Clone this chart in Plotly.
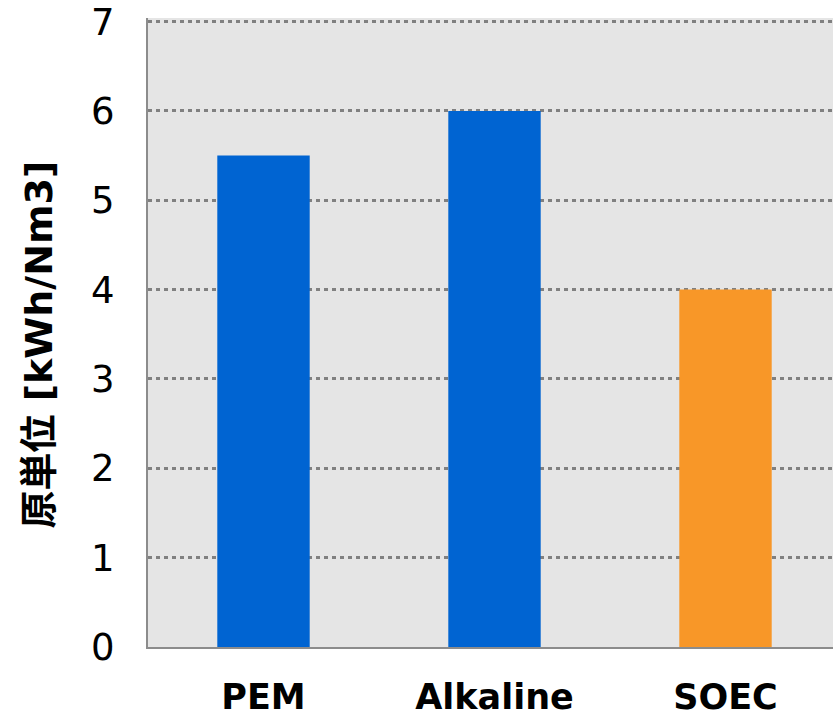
import plotly.graph_objects as go

categories = ["PEM", "Alkaline", "SOEC"]
values = [5.5, 6.0, 4.0]
colors = ["#0064D2", "#0064D2", "#F89728"]
y_ticks = [0, 1, 2, 3, 4, 5, 6, 7]
y_title = "原単位 [kWh/Nm3]"

fig = go.Figure(go.Bar(
    x=categories, y=values, width=0.4,
    marker=dict(color=colors, line=dict(width=0)),
))

fig.update_layout(
    width=833, height=719,
    margin=dict(l=148, r=0, t=18, b=72, autoexpand=False),
    paper_bgcolor="white", plot_bgcolor="#E5E5E5",
    showlegend=False,
)
fig.update_xaxes(
    range=[-0.5, -0.5 + 685 / 231],
    showline=True, linecolor="#8C8C8C", linewidth=2,
    showgrid=False, ticks="", automargin=False,
    tickfont=dict(family="Verdana, DejaVu Sans", size=35, color="black", weight="bold"),
    ticklabelstandoff=18, ticklabeloverflow="allow",
)
fig.update_yaxes(
    range=[0, 7.04], tickvals=y_ticks,
    showline=True, linecolor="#8C8C8C", linewidth=2,
    showgrid=True, gridcolor="#808080", gridwidth=2.5, griddash="4px,4px",
    zeroline=False, ticks="", automargin=False,
    tickfont=dict(family="Verdana, DejaVu Sans", size=37, color="black"),
    ticklabelstandoff=24, ticklabeloverflow="allow",
)
fig.add_annotation(
    text=y_title, textangle=-90, showarrow=False,
    xref="paper", yref="paper", x=(38 - 148) / 685, y=(647 - 344.5) / 629,
    xanchor="center", yanchor="middle",
    font=dict(family="Verdana, DejaVu Sans, Noto Sans CJK JP", size=38, color="black", weight="bold"),
)

fig.write_html("out.html", config={"displayModeBar": False},
               post_script="document.body.style.margin='0px';")
